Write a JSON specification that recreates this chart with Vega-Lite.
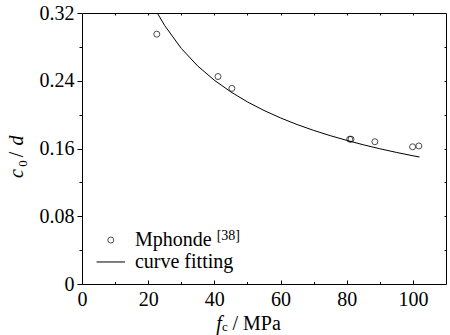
{
  "$schema": "https://vega.github.io/schema/vega-lite/v6.json",
  "width": 364,
  "height": 271,
  "autosize": {"type": "none"},
  "padding": {"left": 82, "top": 13, "right": 4, "bottom": 51},
  "background": "white",
  "config": {
    "view": {"stroke": null},
    "font": "Liberation Serif, Times New Roman, serif",
    "text": {"font": "Liberation Serif, Times New Roman, serif"},
    "axis": {
      "grid": false,
      "domainColor": "black",
      "domainWidth": 1,
      "tickColor": "black",
      "tickWidth": 1,
      "labelColor": "black",
      "labelFont": "Liberation Serif, Times New Roman, serif",
      "labelFontSize": 20,
      "titleColor": "black",
      "titleFont": "Liberation Serif, Times New Roman, serif",
      "titleFontWeight": "normal",
      "titleFontSize": 20
    }
  },
  "datasets": {
    "mphonde": [
      {"fc": 22.6, "r": 0.295},
      {"fc": 41.1, "r": 0.245},
      {"fc": 45.3, "r": 0.231},
      {"fc": 80.9, "r": 0.171},
      {"fc": 81.3, "r": 0.171},
      {"fc": 88.5, "r": 0.168},
      {"fc": 99.9, "r": 0.162},
      {"fc": 101.8, "r": 0.163}
    ],
    "fit": [
      {"fc": 22.75, "r": 0.320},
      {"fc": 25, "r": 0.3051},
      {"fc": 30, "r": 0.2782},
      {"fc": 35, "r": 0.2573},
      {"fc": 40, "r": 0.2406},
      {"fc": 45, "r": 0.2268},
      {"fc": 50, "r": 0.2150},
      {"fc": 55, "r": 0.2049},
      {"fc": 60, "r": 0.1961},
      {"fc": 65, "r": 0.1883},
      {"fc": 70, "r": 0.1814},
      {"fc": 75, "r": 0.1752},
      {"fc": 80, "r": 0.1696},
      {"fc": 85, "r": 0.1644},
      {"fc": 90, "r": 0.1597},
      {"fc": 95, "r": 0.1554},
      {"fc": 100, "r": 0.1514},
      {"fc": 102, "r": 0.1500}
    ],
    "legend": [
      {"series": "Mphonde"}
    ]
  },
  "resolve": {"axis": {"x": "independent", "y": "independent"}},
  "layer": [
    {
      "data": {"name": "mphonde"},
      "mark": {"type": "point", "shape": "circle", "filled": false, "color": "black", "size": 36, "strokeWidth": 1},
      "encoding": {
        "x": {
          "field": "fc", "type": "quantitative",
          "scale": {"domain": [0, 110], "nice": false, "zero": false},
          "axis": {
            "orient": "bottom", "values": [0, 20, 40, 60, 80, 100], "tickSize": -4, "labelPadding": 9,
            "labelFlush": false, "labelOverlap": false,
            "title": "f", "titleFontStyle": "italic", "titleX": 136.5, "titleY": 45,
            "titleAlign": "center", "titleBaseline": "alphabetic", "titleAngle": 0
          }
        },
        "y": {
          "field": "r", "type": "quantitative",
          "scale": {"domain": [0, 0.32], "nice": false, "zero": true},
          "axis": {
            "orient": "left", "values": [0, 0.08, 0.16, 0.24, 0.32], "tickSize": 5, "labelPadding": 3,
            "labelFlush": false, "labelOverlap": false,
            "labelExpr": "datum.value == 0 ? '0' : format(datum.value, '.2f')",
            "title": "c", "titleFontStyle": "italic", "titleAngle": -90,
            "titleX": -60, "titleY": 160, "titleAlign": "center", "titleBaseline": "alphabetic"
          }
        }
      }
    },
    {
      "data": {"name": "fit"},
      "mark": {"type": "line", "color": "black", "strokeWidth": 1},
      "encoding": {
        "x": {
          "field": "fc", "type": "quantitative",
          "axis": {"orient": "bottom", "values": [10, 30, 50, 70, 90], "tickSize": -2.5, "labels": false, "domain": false, "title": null}
        },
        "y": {
          "field": "r", "type": "quantitative",
          "axis": {"orient": "left", "values": [0.04, 0.12, 0.2, 0.28], "tickSize": 3, "labels": false, "domain": false, "title": null}
        }
      }
    },
    {
      "data": {"name": "legend"},
      "mark": {"type": "point", "shape": "circle", "filled": false, "color": "black", "size": 36, "strokeWidth": 1},
      "encoding": {
        "x": {
          "datum": 8.7, "type": "quantitative",
          "axis": {"orient": "top", "values": [10, 20, 30, 40, 50, 60, 70, 80, 90, 100], "tickSize": -2, "labels": false, "domain": true, "title": null}
        },
        "y": {
          "datum": 0.0519, "type": "quantitative",
          "axis": {"orient": "right", "values": [0.04, 0.08, 0.12, 0.16, 0.2, 0.24, 0.28], "tickSize": -2, "labels": false, "domain": true, "title": null}
        }
      }
    },
    {
      "data": {"name": "legend"},
      "mark": {"type": "rule", "color": "black", "strokeWidth": 1},
      "encoding": {
        "x": {
          "datum": 4.4, "type": "quantitative",
          "axis": {"orient": "bottom", "domain": false, "ticks": false, "labels": false,
            "title": "c", "titleFontSize": 13, "titleX": 142.5, "titleY": 46, "titleAlign": "center", "titleBaseline": "alphabetic", "titleAngle": 0}
        },
        "x2": {"datum": 13.0},
        "y": {
          "datum": 0.026, "type": "quantitative",
          "axis": {"orient": "left", "domain": false, "ticks": false, "labels": false,
            "title": "0", "titleFontSize": 13, "titleAngle": -90, "titleX": -56, "titleY": 150, "titleAlign": "center", "titleBaseline": "alphabetic"}
        }
      }
    },
    {
      "data": {"name": "legend"},
      "mark": {"type": "text", "text": "Mphonde", "align": "left", "baseline": "middle", "fontSize": 20, "color": "black"},
      "encoding": {
        "x": {
          "datum": 16.0, "type": "quantitative",
          "axis": {"orient": "bottom", "domain": false, "ticks": false, "labels": false,
            "title": "/ MPa", "titleX": 150, "titleY": 45, "titleAlign": "left", "titleBaseline": "alphabetic", "titleAngle": 0}
        },
        "y": {
          "datum": 0.0519, "type": "quantitative",
          "axis": {"orient": "left", "domain": false, "ticks": false, "labels": false,
            "title": "/", "titleAngle": -90, "titleX": -60, "titleY": 141, "titleAlign": "center", "titleBaseline": "alphabetic"}
        }
      }
    },
    {
      "data": {"name": "legend"},
      "mark": {"type": "text", "text": "curve fitting", "align": "left", "baseline": "middle", "fontSize": 20, "color": "black"},
      "encoding": {
        "x": {"datum": 16.0, "type": "quantitative", "axis": null},
        "y": {
          "datum": 0.026, "type": "quantitative",
          "axis": {"orient": "left", "domain": false, "ticks": false, "labels": false,
            "title": "d", "titleFontStyle": "italic", "titleAngle": -90, "titleX": -60, "titleY": 127, "titleAlign": "center", "titleBaseline": "alphabetic"}
        }
      }
    },
    {
      "data": {"name": "legend"},
      "mark": {"type": "text", "text": "[38]", "align": "left", "baseline": "alphabetic", "fontSize": 14, "color": "black"},
      "encoding": {
        "x": {"datum": 40.7, "type": "quantitative", "axis": null},
        "y": {"datum": 0.0515, "type": "quantitative", "axis": null}
      }
    }
  ]
}
